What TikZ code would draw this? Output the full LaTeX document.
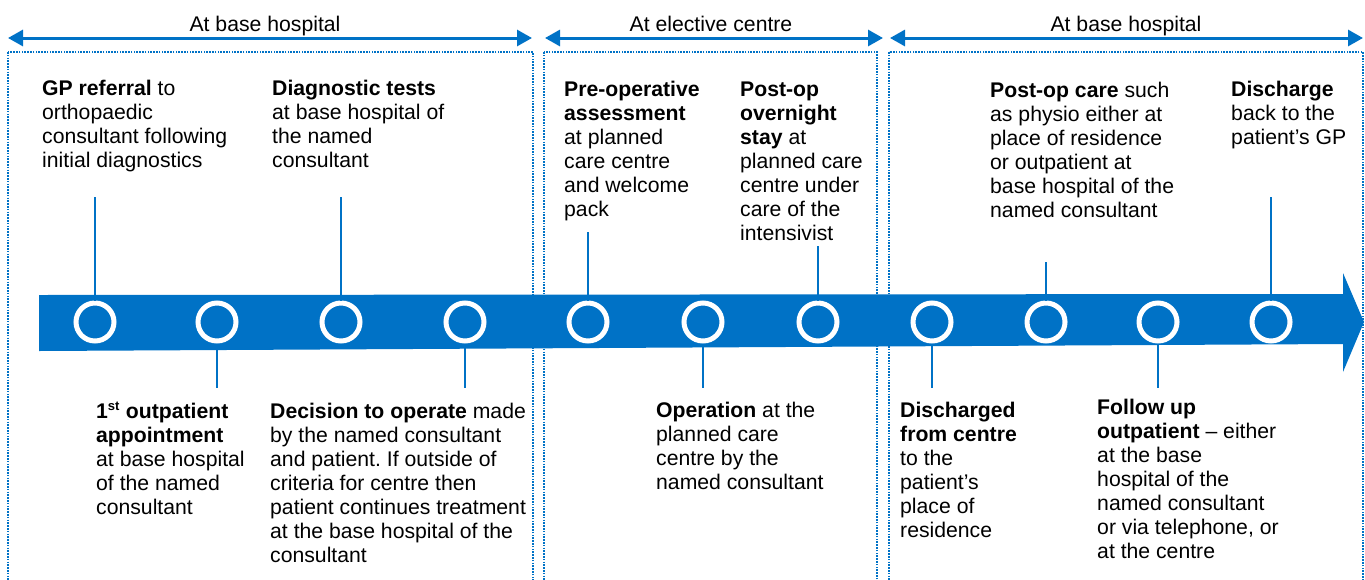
\documentclass[tikz,border=0pt]{standalone}
\usepackage{fontspec}
\setmainfont{Liberation Sans}
\usetikzlibrary{arrows.meta}
\definecolor{pblue}{RGB}{0,114,198}
\newcommand{\blk}[1]{\parbox[t]{320pt}{\raggedright\frenchspacing #1}}
\begin{document}
\begin{tikzpicture}[x=1pt,y=-1pt,
  txt/.style={anchor=base west, inner sep=0pt, font=\fontsize{21.2}{24}\selectfont, text=black},
  hdr/.style={anchor=base, inner sep=0pt, font=\fontsize{21.2}{24}\selectfont, text=black},
  span/.style={pblue, line width=3pt, {Triangle[length=15pt,width=16pt]}-{Triangle[length=15pt,width=16pt]}},
  zone/.style={pblue, line width=1.6pt, dash pattern=on 1.6pt off 1.2pt},
  ring/.style={circle, draw=white, line width=5pt, minimum size=38pt, inner sep=0pt},
  tick/.style={pblue, line width=2.5pt}]
\clip (0,0) rectangle (1365,579);

% headers
\node[hdr] (h1) at (265,31) {At base hospital};
\node[hdr] (h2) at (711,31) {At elective centre};
\node[hdr] (h3) at (1126,31) {At base hospital};
\coordinate (a1l) at (8,38);   \coordinate (a1r) at (532,38);
\coordinate (a2l) at (545,38); \coordinate (a2r) at (883,38);
\coordinate (a3l) at (890,38); \coordinate (a3r) at (1363,38);
\draw[span] (a1l) -- (a1r);
\draw[span] (a2l) -- (a2r);
\draw[span] (a3l) -- (a3r);

% zones
\draw[zone] (8,52) rectangle (533,600);
\draw[zone] (544,52) rectangle (877,600);
\draw[zone] (889,52) rectangle (1363,600);

% main arrow
\fill[pblue] (39,295) -- (1343,294) -- (1343,273) -- (1364,322) -- (1343,372) -- (1343,344) -- (39,351) -- cycle;

% circles
\node[ring] (c1) at (95,322) {};
\node[ring] (c2) at (217,322) {};
\node[ring] (c3) at (341,322) {};
\node[ring] (c4) at (465,322) {};
\node[ring] (c5) at (588,322) {};
\node[ring] (c6) at (703,322) {};
\node[ring] (c7) at (818,322) {};
\node[ring] (c8) at (932,322) {};
\node[ring] (c9) at (1046,322) {};
\node[ring] (c10) at (1158,322) {};
\node[ring] (c11) at (1271,322) {};

% ticks
\coordinate (e1) at (95,197);
\coordinate (e2) at (217,388);
\coordinate (e3) at (341,197);
\coordinate (e4) at (465,388);
\coordinate (e5) at (588,232);
\coordinate (e6) at (703,388);
\coordinate (e7) at (818,246);
\coordinate (e8) at (932,388);
\coordinate (e9) at (1046,262);
\coordinate (e10) at (1158,388);
\coordinate (e11) at (1271,197);
\draw[tick] (c1.north) -- (e1);
\draw[tick] (c2.south) -- (e2);
\draw[tick] (c3.north) -- (e3);
\draw[tick] (c4.south) -- (e4);
\draw[tick] (c5.north) -- (e5);
\draw[tick] (c6.south) -- (e6);
\draw[tick] (c7.north) -- (e7);
\draw[tick] (c8.south) -- (e8);
\draw[tick] (c9.north) -- (e9);
\draw[tick] (c10.south) -- (e10);
\draw[tick] (c11.north) -- (e11);

% texts above
\node[txt] (t1) at (42,95) {\blk{\textbf{GP referral} to\\orthopaedic\\consultant following\\initial diagnostics}};
\node[txt] (t3) at (272,95) {\blk{\textbf{Diagnostic tests}\\at base hospital of\\the named\\consultant}};
\node[txt] (t5) at (564,96) {\blk{\textbf{Pre-operative}\\\textbf{assessment}\\at planned\\care centre\\and welcome\\pack}};
\node[txt] (t7) at (740,96) {\blk{\textbf{Post-op}\\\textbf{overnight}\\\textbf{stay} at\\planned care\\centre under\\care of the\\intensivist}};
\node[txt] (t9) at (990,97) {\blk{\textbf{Post-op care} such\\as physio either at\\place of residence\\or outpatient at\\base hospital of the\\named consultant}};
\node[txt] (t11) at (1231,96) {\blk{\textbf{Discharge}\\back to the\\patient’s GP}};

% texts below
\node[txt] (t2) at (96,418) {\blk{\textbf{1\textsuperscript{\fontsize{13}{13}\selectfont st} outpatient}\\\textbf{appointment}\\at base hospital\\of the named\\consultant}};
\node[txt] (t4) at (270,418) {\blk{\textbf{Decision to operate} made\\by the named consultant\\and patient. If outside of\\criteria for centre then\\patient continues treatment\\at the base hospital of the\\consultant}};
\node[txt] (t6) at (656,417) {\blk{\textbf{Operation} at the\\planned care\\centre by the\\named consultant}};
\node[txt] (t8) at (900,417) {\blk{\textbf{Discharged}\\\textbf{from centre}\\to the\\patient’s\\place of\\residence}};
\node[txt] (t10) at (1097,414) {\blk{\textbf{Follow up}\\\textbf{outpatient} – either\\at the base\\hospital of the\\named consultant\\or via telephone, or\\at the centre}};
\end{tikzpicture}
\end{document}
